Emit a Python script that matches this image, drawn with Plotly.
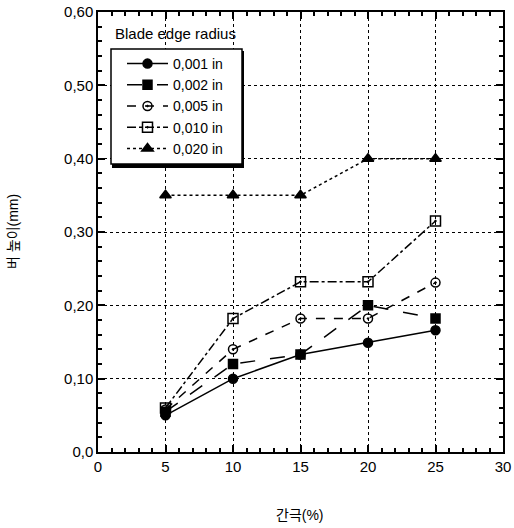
import plotly.graph_objects as go

gap = [5, 10, 15, 20, 25]
r001 = [0.05, 0.10, 0.133, 0.149, 0.166]
r002 = [0.055, 0.12, 0.133, 0.20, 0.182]
r005 = [0.058, 0.14, 0.182, 0.182, 0.231]
r010 = [0.06, 0.182, 0.232, 0.232, 0.315]
r020 = [0.35, 0.35, 0.35, 0.40, 0.40]

names = ["0,001 in", "0,002 in", "0,005 in", "0,010 in", "0,020 in"]
ytickvals = [0.0, 0.1, 0.2, 0.3, 0.4, 0.5, 0.6]
yticktext = ["0,0", "0,10", "0,20", "0,30", "0,40", "0,50", "0,60"]
xtickvals = [0, 5, 10, 15, 20, 25, 30]

FONT = "Liberation Sans, Arial, Noto Sans CJK KR, sans-serif"

styles = [
    dict(dash="solid", symbol="circle", size=9),
    dict(dash="longdash", symbol="square", size=9),
    dict(dash="dash", symbol="circle-open-dot", size=9),
    dict(dash="dashdot", symbol="square-open-dot", size=10),
    dict(dash="dot", symbol="triangle-up", size=10),
]

fig = go.Figure()
for ys, nm, st in zip([r001, r002, r005, r010, r020], names, styles):
    fig.add_trace(go.Scatter(
        x=gap, y=ys, name=nm, mode="lines+markers",
        line=dict(color="black", width=1.5, dash=st["dash"]),
        marker=dict(symbol=st["symbol"], size=st["size"], color="black",
                    line=dict(color="black", width=1.5)),
    ))

axis_common = dict(
    showline=True, linecolor="black", linewidth=1.5, mirror="ticks",
    ticks="inside", ticklen=7, tickwidth=1.5, tickcolor="black",
    showgrid=True, gridcolor="black", gridwidth=1.2, griddash="dot",
    zeroline=False, automargin=False,
    tickfont=dict(family=FONT, size=15, color="black"),
)

fig.update_xaxes(range=[0, 30], tickvals=xtickvals,
                 minor=dict(dtick=1, ticks="inside", ticklen=4, tickcolor="black", showgrid=False),
                 **axis_common)
fig.update_yaxes(range=[0, 0.6], tickvals=ytickvals, ticktext=yticktext,
                 minor=dict(dtick=0.02, ticks="inside", ticklen=4, tickcolor="black", showgrid=False),
                 **axis_common)

# legend box with drop shadow
L, R, T, B = 111, 242, 49, 164
W, H = 514, 528
ml, mr, mt, mb = 98, 11, 12, 76
pw, ph = W - ml - mr, H - mt - mb
def px(x): return (x - ml) / pw
def py(y): return (H - mb - y) / ph

fig.add_shape(type="rect", xref="paper", yref="paper",
              x0=px(L + 1), x1=px(R + 2), y0=py(B + 4), y1=py(T + 2),
              fillcolor="black", line=dict(width=0), layer="above")
fig.add_shape(type="rect", xref="paper", yref="paper",
              x0=px(L), x1=px(R), y0=py(B), y1=py(T),
              fillcolor="white", line=dict(color="black", width=1.5), layer="above")

fig.add_annotation(text="Blade edge radius", xref="paper", yref="paper",
                   x=px(113), y=py(33), xanchor="left", yanchor="middle",
                   showarrow=False, font=dict(family=FONT, size=15, color="black"))
fig.add_annotation(text="간극(%)", xref="paper", yref="paper",
                   x=px(300), y=py(515), xanchor="center", yanchor="middle",
                   showarrow=False, font=dict(family=FONT, size=14, color="black"))
fig.add_annotation(text="버 높이(mm)", xref="paper", yref="paper",
                   x=px(13), y=py(232), xanchor="center", yanchor="middle", textangle=-90,
                   showarrow=False, font=dict(family=FONT, size=14, color="black"))

fig.update_layout(
    width=W, height=H,
    margin=dict(l=ml, r=mr, t=mt, b=mb, autoexpand=False),
    paper_bgcolor="white", plot_bgcolor="white",
    font=dict(family=FONT, size=15, color="black"),
    showlegend=True,
    legend=dict(x=px(L + 11), y=py(T - 1), xanchor="left", yanchor="top",
                bgcolor="rgba(0,0,0,0)", borderwidth=0,
                font=dict(family=FONT, size=14, color="black"),
                tracegroupgap=0, itemwidth=41),
)

fig.write_html("out.html", config={"displayModeBar": False},
               post_script="document.body.style.margin='0';document.body.style.overflow='hidden';")
